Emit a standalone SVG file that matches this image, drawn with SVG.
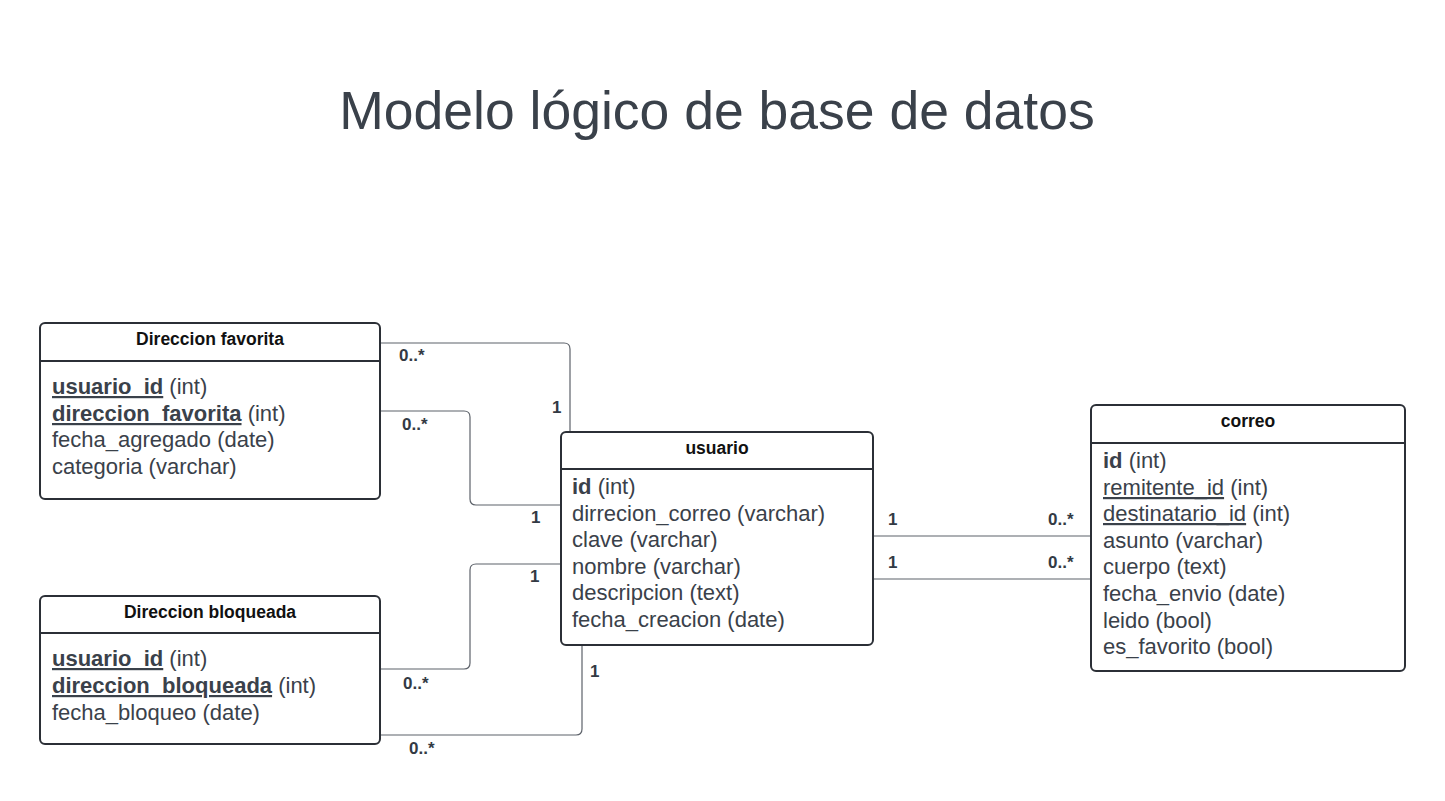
<svg xmlns="http://www.w3.org/2000/svg" width="1445" height="801" viewBox="0 0 1445 801">
<style>
.box{fill:#fff;stroke:#2b2f36;stroke-width:2}
.div{stroke:#2b2f36;stroke-width:2}
.hdr{font-family:"Liberation Sans",Arial,sans-serif;font-weight:bold;font-size:17.5px;fill:#111;text-anchor:middle}
.att{font-family:"Liberation Sans",Arial,sans-serif;font-size:22px;fill:#3a414a}
.b{font-weight:bold}
.u{text-decoration:underline}
.con{fill:none;stroke:#5d626a;stroke-width:1.2}
.lbl{font-family:"Liberation Sans",Arial,sans-serif;font-weight:bold;font-size:17px;fill:#333a44}
.title{font-family:"Liberation Sans",Arial,sans-serif;font-size:53.5px;fill:#3a414a;text-anchor:middle}
</style>
<rect width="1445" height="801" fill="#fff"/>
<text class="title" x="717" y="129">Modelo lógico de base de datos</text>

<g id="connectors">
<path class="con" d="M380,343 H564 Q570,343 570,349 V432"/>
<path class="con" d="M380,411 H464 Q470,411 470,417 V499 Q470,505 476,505 H561"/>
<path class="con" d="M561,564 H476 Q470,564 470,570 V663 Q470,669 464,669 H380"/>
<path class="con" d="M582,645 V729 Q582,735 576,735 H380"/>
<path class="con" d="M873,536 H1091"/>
<path class="con" d="M873,579 H1091"/>
<text class="lbl" x="399" y="361">0..*</text>
<text class="lbl" x="552" y="413">1</text>
<text class="lbl" x="402" y="430">0..*</text>
<text class="lbl" x="531" y="523">1</text>
<text class="lbl" x="530" y="582">1</text>
<text class="lbl" x="403" y="689">0..*</text>
<text class="lbl" x="590" y="677">1</text>
<text class="lbl" x="409" y="754">0..*</text>
<text class="lbl" x="888" y="525">1</text>
<text class="lbl" x="1048" y="525">0..*</text>
<text class="lbl" x="888" y="568">1</text>
<text class="lbl" x="1048" y="568">0..*</text>
</g>

<g id="direccion-favorita">
<rect class="box" x="40" y="323" width="340" height="176" rx="5"/>
<line class="div" x1="40" y1="361" x2="380" y2="361"/>
<text class="hdr" x="210" y="345">Direccion favorita</text>
<text class="att" x="52" y="394"><tspan class="b u">usuario_id</tspan> (int)</text>
<text class="att" x="52" y="421"><tspan class="b u">direccion_favorita</tspan> (int)</text>
<text class="att" x="52" y="447">fecha_agregado (date)</text>
<text class="att" x="52" y="474">categoria (varchar)</text>
</g>

<g id="direccion-bloqueada">
<rect class="box" x="40" y="596" width="340" height="148" rx="5"/>
<line class="div" x1="40" y1="633" x2="380" y2="633"/>
<text class="hdr" x="210" y="618">Direccion bloqueada</text>
<text class="att" x="52" y="666"><tspan class="b u">usuario_id</tspan> (int)</text>
<text class="att" x="52" y="693"><tspan class="b u">direccion_bloqueada</tspan> (int)</text>
<text class="att" x="52" y="720">fecha_bloqueo (date)</text>
</g>

<g id="usuario">
<rect class="box" x="561" y="432" width="312" height="213" rx="5"/>
<line class="div" x1="561" y1="469" x2="873" y2="469"/>
<text class="hdr" x="717" y="454">usuario</text>
<text class="att" x="572" y="494"><tspan class="b">id</tspan> (int)</text>
<text class="att" x="572" y="521">dirrecion_correo (varchar)</text>
<text class="att" x="572" y="547">clave (varchar)</text>
<text class="att" x="572" y="574">nombre (varchar)</text>
<text class="att" x="572" y="600">descripcion (text)</text>
<text class="att" x="572" y="627">fecha_creacion (date)</text>
</g>

<g id="correo">
<rect class="box" x="1091" y="405" width="314" height="266" rx="5"/>
<line class="div" x1="1091" y1="443" x2="1405" y2="443"/>
<text class="hdr" x="1248" y="427">correo</text>
<text class="att" x="1103" y="468"><tspan class="b">id</tspan> (int)</text>
<text class="att" x="1103" y="495"><tspan class="u">remitente_id</tspan> (int)</text>
<text class="att" x="1103" y="521"><tspan class="u">destinatario_id</tspan> (int)</text>
<text class="att" x="1103" y="548">asunto (varchar)</text>
<text class="att" x="1103" y="574">cuerpo (text)</text>
<text class="att" x="1103" y="601">fecha_envio (date)</text>
<text class="att" x="1103" y="628">leido (bool)</text>
<text class="att" x="1103" y="654">es_favorito (bool)</text>
</g>
</svg>
